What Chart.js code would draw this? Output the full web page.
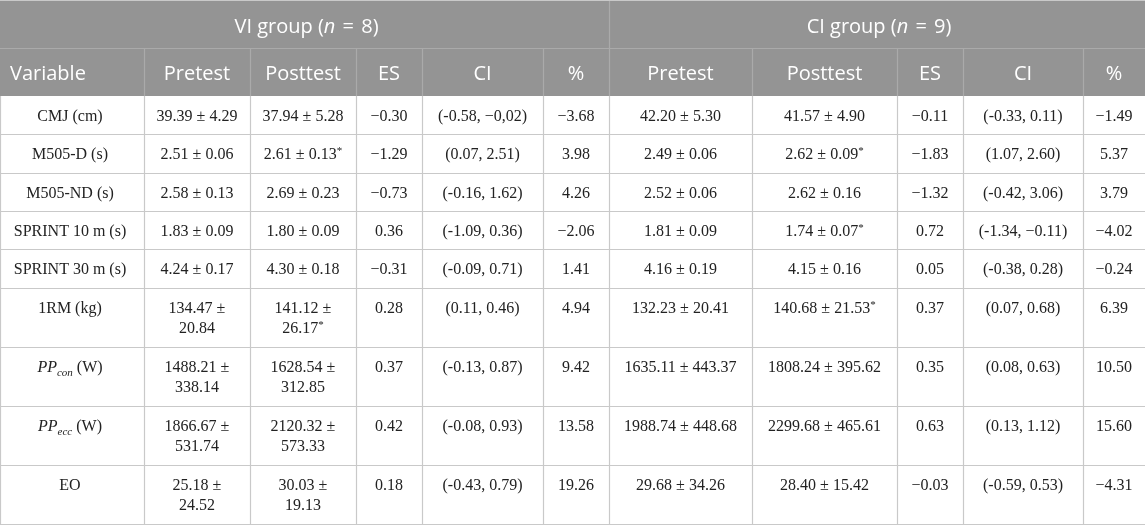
<!DOCTYPE html>
<html>
<head>
<meta charset="utf-8">
<script src="https://cdn.jsdelivr.net/npm/chart.js@4.4.1/dist/chart.umd.min.js"></script>
<style>
  html, body { margin: 0; padding: 0; background: #ffffff; }
  #wrap { width: 1145px; height: 525px; position: relative; }
</style>
</head>
<body>
<div id="wrap"><canvas id="c"></canvas></div>
<script>
// ---------------- DATA ----------------
const groupNames = ['VI group', 'CI group'];
const groupSizes = [8, 9];
const columnHeaders = ['Variable', 'Pretest', 'Posttest', 'ES', 'CI', '%', 'Pretest', 'Posttest', 'ES', 'CI', '%'];
const variables = ['CMJ (cm)', 'M505-D (s)', 'M505-ND (s)', 'SPRINT 10 m (s)', 'SPRINT 30 m (s)', '1RM (kg)', 'PP_{con} (W)', 'PP_{ecc} (W)', 'EO'];
const viPretest = ['39.39 ± 4.29', '2.51 ± 0.06', '2.58 ± 0.13', '1.83 ± 0.09', '4.24 ± 0.17', '134.47 ± 20.84', '1488.21 ± 338.14', '1866.67 ± 531.74', '25.18 ± 24.52'];
const viPosttest = ['37.94 ± 5.28', '2.61 ± 0.13*', '2.69 ± 0.23', '1.80 ± 0.09', '4.30 ± 0.18', '141.12 ± 26.17*', '1628.54 ± 312.85', '2120.32 ± 573.33', '30.03 ± 19.13'];
const viES = ['−0.30', '−1.29', '−0.73', '0.36', '−0.31', '0.28', '0.37', '0.42', '0.18'];
const viCI = ['(-0.58, −0,02)', '(0.07, 2.51)', '(-0.16, 1.62)', '(-1.09, 0.36)', '(-0.09, 0.71)', '(0.11, 0.46)', '(-0.13, 0.87)', '(-0.08, 0.93)', '(-0.43, 0.79)'];
const viPct = ['−3.68', '3.98', '4.26', '−2.06', '1.41', '4.94', '9.42', '13.58', '19.26'];
const ciPretest = ['42.20 ± 5.30', '2.49 ± 0.06', '2.52 ± 0.06', '1.81 ± 0.09', '4.16 ± 0.19', '132.23 ± 20.41', '1635.11 ± 443.37', '1988.74 ± 448.68', '29.68 ± 34.26'];
const ciPosttest = ['41.57 ± 4.90', '2.62 ± 0.09*', '2.62 ± 0.16', '1.74 ± 0.07*', '4.15 ± 0.16', '140.68 ± 21.53*', '1808.24 ± 395.62', '2299.68 ± 465.61', '28.40 ± 15.42'];
const ciES = ['−0.11', '−1.83', '−1.32', '0.72', '0.05', '0.37', '0.35', '0.63', '−0.03'];
const ciCI = ['(-0.33, 0.11)', '(1.07, 2.60)', '(-0.42, 3.06)', '(-1.34, −0.11)', '(-0.38, 0.28)', '(0.07, 0.68)', '(0.08, 0.63)', '(0.13, 1.12)', '(-0.59, 0.53)'];
const ciPct = ['−1.49', '5.37', '3.79', '−4.02', '−0.24', '6.39', '10.50', '15.60', '−4.31'];

// ---------------- LAYOUT (scale units) ----------------
const colEdges = [0, 144, 250, 356, 422, 543, 609, 752, 897, 963, 1083, 1145];
const groupSpans = [[0, 6], [6, 11]];
const headerRowH = 48;
const singleRowH = 38.3;
const extraLineH = 20.9;
const lineStep = 20;
const cellPad = 10;

const HEADER_BG = '#949494';
const HEADER_LINE = '#aaaaaa';
const BODY_LINE = '#c9c9c9';
const BODY_TEXT = '#222222';
const SERIF = '"Liberation Serif", "Times New Roman", serif';
const BODY_FONT = '16px ' + SERIF;
const BODY_FONT_I = 'italic 16px ' + SERIF;
const SUB_FONT_I = 'italic 11px ' + SERIF;
const STAR_FONT = '11px ' + SERIF;
const HEAD_FONT = '20px "Open Sans", "Noto Sans", sans-serif';
const HEAD_FONT_I = 'italic 20px "Open Sans", "Noto Sans", sans-serif';

const columns = [variables, viPretest, viPosttest, viES, viCI, viPct, ciPretest, ciPosttest, ciES, ciCI, ciPct];

function wrapText(ctx, text, maxW) {
  const words = text.split(' ');
  const lines = [];
  let cur = '';
  for (const w of words) {
    const test = cur ? cur + ' ' + w : w;
    if (cur && ctx.measureText(test).width > maxW) { lines.push(cur); cur = w; }
    else cur = test;
  }
  if (cur) lines.push(cur);
  return lines;
}

function cellSegs(text, isVar) {
  if (isVar) {
    const m = text.match(/^(\w+)_\{(\w+)\}(.*)$/);
    if (m) return [
      { t: m[1], f: BODY_FONT_I, dy: 0 },
      { t: m[2], f: SUB_FONT_I, dy: 4 },
      { t: m[3], f: BODY_FONT, dy: 0 }
    ];
  }
  if (text.endsWith('*')) return [
    { t: text.slice(0, -1), f: BODY_FONT, dy: 0 },
    { t: '*', f: STAR_FONT, dy: -5 }
  ];
  return [{ t: text, f: BODY_FONT, dy: 0 }];
}

function drawSegs(ctx, segs, cx, baseline) {
  let w = 0;
  segs.forEach(s => { ctx.font = s.f; s.w = ctx.measureText(s.t).width; w += s.w; });
  let x = cx - w / 2;
  segs.forEach(s => { ctx.font = s.f; ctx.fillText(s.t, x, baseline + s.dy); x += s.w; });
}

const tablePlugin = {
  id: 'tablePlugin',
  afterDraw(chart) {
    const ctx = chart.ctx;
    const xs = chart.scales.x, ys = chart.scales.y;
    const X = v => xs.getPixelForValue(v);
    const Y = v => ys.getPixelForValue(v);
    ctx.save();
    ctx.textAlign = 'left';
    ctx.textBaseline = 'alphabetic';

    // compute wrapped cell lines and row heights
    ctx.font = BODY_FONT;
    const cells = variables.map((_, r) => columns.map((col, c) => {
      if (c === 0) return [col[r]];
      const maxW = (X(colEdges[c + 1]) - X(colEdges[c])) - 2 * cellPad;
      return wrapText(ctx, col[r], maxW);
    }));
    const rowTops = [];
    let yv = 2 * headerRowH;
    cells.forEach(row => {
      rowTops.push(yv);
      const n = Math.max(...row.map(l => l.length));
      yv += singleRowH + extraLineH * (n - 1);
    });
    const tableBottom = yv;

    // backgrounds
    ctx.fillStyle = '#ffffff';
    ctx.fillRect(X(0), Y(0), X(1145) - X(0), Y(tableBottom) - Y(0));
    ctx.fillStyle = HEADER_BG;
    ctx.fillRect(X(0), Y(0), X(1145) - X(0), Y(2 * headerRowH) - Y(0));

    // header lines
    ctx.lineWidth = 1.2;
    ctx.strokeStyle = HEADER_LINE;
    const hline = (v, x0, x1) => { ctx.beginPath(); ctx.moveTo(X(x0), Math.round(Y(v)) + 0.5); ctx.lineTo(X(x1), Math.round(Y(v)) + 0.5); ctx.stroke(); };
    const vline = (v, y0, y1) => { ctx.beginPath(); ctx.moveTo(Math.round(X(v)) + 0.5, Y(y0)); ctx.lineTo(Math.round(X(v)) + 0.5, Y(y1)); ctx.stroke(); };
    hline(headerRowH, 0, 1145);
    vline(colEdges[6], 0, headerRowH);
    for (let i = 1; i < colEdges.length - 1; i++) vline(colEdges[i], headerRowH, 2 * headerRowH);

    // body lines
    ctx.strokeStyle = BODY_LINE;
    hline(0, 0, 1145);
    rowTops.slice(1).forEach(t => hline(t, 0, 1145));
    hline(tableBottom - 0.5, 0, 1145);
    for (let i = 1; i < colEdges.length - 1; i++) vline(colEdges[i], 2 * headerRowH, tableBottom);
    vline(0, 2 * headerRowH, tableBottom);

    // header texts
    ctx.fillStyle = '#ffffff';
    groupSpans.forEach((sp, g) => {
      const cx = (X(colEdges[sp[0]]) + X(colEdges[sp[1]])) / 2 + 2;
      drawSegs(ctx, [
        { t: groupNames[g] + ' (', f: HEAD_FONT, dy: 0 },
        { t: 'n', f: HEAD_FONT_I, dy: 0 },
        { t: '\u200a = \u200a' + groupSizes[g] + ')', f: HEAD_FONT, dy: 0 }
      ], cx, Y(headerRowH / 2) + 9);
    });
    ctx.font = HEAD_FONT;
    columnHeaders.forEach((h, c) => {
      const base = Y(headerRowH * 1.5) + 8;
      if (c === 0) { ctx.fillText(h, X(colEdges[0]) + 10, base); }
      else {
        const w = ctx.measureText(h).width;
        ctx.fillText(h, (X(colEdges[c]) + X(colEdges[c + 1])) / 2 - w / 2, base);
      }
    });

    // body texts
    ctx.fillStyle = BODY_TEXT;
    cells.forEach((row, r) => {
      row.forEach((lines, c) => {
        const cx = (X(colEdges[c]) + X(colEdges[c + 1])) / 2 + (c === 0 ? -2 : 0);
        lines.forEach((ln, li) => {
          const base = Y(rowTops[r] + 19.5 + li * lineStep) + 5.5;
          drawSegs(ctx, cellSegs(ln, c === 0), cx, base);
        });
      });
    });
    ctx.restore();
  }
};

new Chart(document.getElementById('c'), {
  type: 'scatter',
  data: { datasets: [{ data: [], pointRadius: 0 }] },
  options: {
    responsive: true,
    maintainAspectRatio: false,
    animation: false,
    events: [],
    layout: { padding: 0 },
    plugins: { legend: { display: false }, tooltip: { enabled: false } },
    scales: {
      x: { type: 'linear', min: 0, max: 1145, display: false },
      y: { type: 'linear', min: 0, max: 525, reverse: true, display: false }
    }
  },
  plugins: [tablePlugin]
});
</script>
</body>
</html>
